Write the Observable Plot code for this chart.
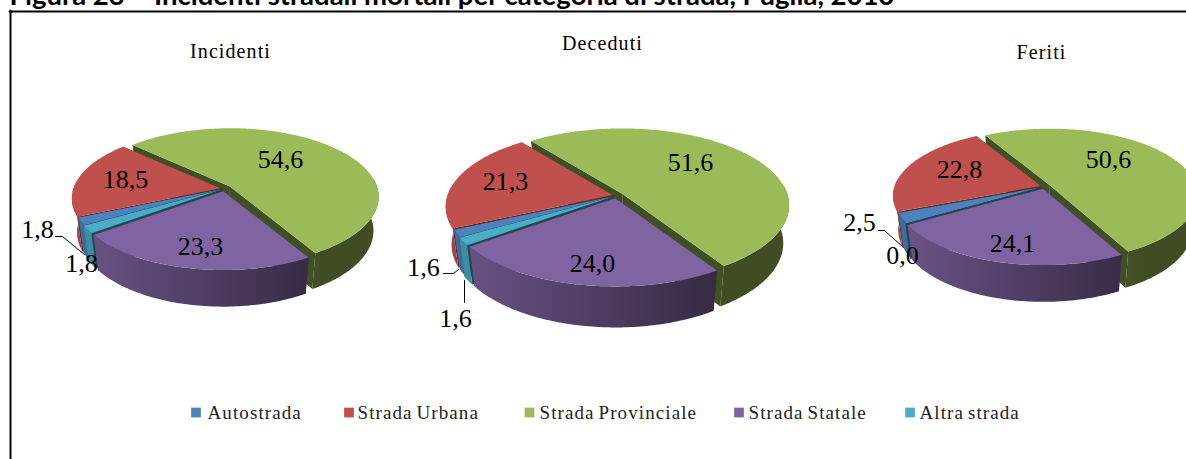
<!DOCTYPE html>
<html><head><meta charset="utf-8">
<script src="https://cdn.jsdelivr.net/npm/d3@7"></script>
<script src="https://cdn.jsdelivr.net/npm/@observablehq/plot@0.6"></script>
<style>html,body{margin:0;padding:0;background:#fff;overflow:hidden}svg{display:block}
.spaced text{letter-spacing:1.1px;word-spacing:-2px}</style>
</head><body><div id="chart"></div>
<script>
const figureTitle = "Figura 23 – Incidenti stradali mortali per categoria di strada, Puglia, 2010";
const categories = ["Autostrada", "Strada Urbana", "Strada Provinciale", "Strada Statale", "Altra strada"];
const palette = ["#4f81bd", "#c0504d", "#9bbb59", "#8064a2", "#4bacc6"];
const pieNames = ["Incidenti", "Deceduti", "Feriti"];
const incidenti = [1.8, 18.5, 54.6, 23.3, 1.8];
const deceduti = [1.6, 21.3, 51.6, 24.0, 1.6];
const feriti = [2.5, 22.8, 50.6, 24.1, 0.0];

// Layout only, separate from the values
const W = 1186, H = 459;
const pies = [
  {name: pieNames[0], values: incidenti, cx: 224, cy: 188, rx: 147, ry: 67, depth: 33.5, start: 240,
   explode: [3, 4, 7, 6, 4],
   title: [230, 51], labels: [[37, 229], [125, 179], [280, 159], [200, 246], [81, 263]],
   leaders: [[[55, 236], [62, 236], [84, 254]]]},
  {name: pieNames[1], values: deceduti, cx: 616, cy: 195, rx: 165, ry: 75, depth: 37.5, start: 239.5,
   explode: [3, 4, 7, 6, 4],
   title: [602, 43], labels: [[423, 267], [505, 181], [690, 162], [592, 263], [455, 318]],
   leaders: [[[443, 273], [453, 273], [458, 269]], [[464, 280], [464, 302]]]},
  {name: pieNames[2], values: feriti, cx: 1044, cy: 186, rx: 146, ry: 65, depth: 33.5, start: 239,
   explode: [3, 4, 6, 5, 4],
   title: [1041, 52], labels: [[859, 222], [959, 169], [1108, 159], [1012, 243], [902, 255]],
   leaders: [[[878, 230], [884, 230], [903, 247]]]}
];
const paintOrder = [2, 1, 0, 4, 3];
const legendSwatchX = [195.5, 348.5, 529, 738.5, 909.5];
const legendTextX = [207, 357, 539, 748, 919];
const legendY = 412;
const K = 0.15, SHRINK = 0.965;
const FRONT = [84, 276];

const rad = d => d * Math.PI / 180;
function shade(hex, f) {
  const c = d3.rgb(hex);
  return d3.rgb(c.r * f, c.g * f, c.b * f).formatHex();
}
const polys = [], textRows = [], leaderRows = [], gradients = [];
let id = 0;
function addPoly(points, color) {
  const z = id++;
  for (const [x, y] of points) polys.push({x, y, z, color});
}
function norm(t) { return ((t % 360) + 360) % 360; }
pies.forEach((p, pi) => {
  const total = d3.sum(p.values);
  let a = p.start;
  const slices = p.values.map((v, i) => {
    const a0 = a, a1 = a + v / total * 360;
    a = a1;
    return {i, v, a0, a1};
  });
  for (const k of paintOrder) {
    const {i, a0, a1} = slices[k];
    const mid = rad((a0 + a1) / 2);
    const ax = p.cx + p.explode[i] * Math.sin(mid);
    const ay = p.cy - p.explode[i] * Math.cos(mid) * p.ry / p.rx;
    const proj = t => {
      const u = Math.sin(rad(t)), v = -Math.cos(rad(t)), s = 1 / (1 - K * v);
      return {top: [ax + p.rx * u * s, ay + p.ry * v * s],
              bot: [ax + SHRINK * p.rx * u * s, ay + SHRINK * p.ry * v * s + p.depth * s]};
    };
    const apexBot = [ax, ay + p.depth];
    const base = palette[i];
    // cut walls
    for (const t of [a0, a1]) {
      const e = proj(t);
      addPoly([[ax, ay], e.top, e.bot, apexBot], shade(base, i === 1 ? 0.5 : 0.42));
    }
    // outer wall, only its front-facing part, with a left-to-right gradient
    const lo = norm(a0), span = a1 - a0;
    const from = lo + 0, to = lo + span;
    const ranges = [[from, to], [from - 360, to - 360], [from + 360, to + 360]]
      .map(([s, e]) => [Math.max(s, FRONT[0]), Math.min(e, FRONT[1])])
      .filter(([s, e]) => e > s);
    for (const [s, e] of ranges) {
      const n = Math.max(1, Math.ceil(e - s));
      const upper = [], lower = [];
      for (let j = 0; j <= n; j++) {
        const q = proj(s + (e - s) * j / n);
        upper.push(q.top);
        lower.push(q.bot);
      }
      const gid = `wall-${pi}-${i}`;
      gradients.push({gid, x1: p.cx - p.rx, x2: p.cx + p.rx, base});
      addPoly(upper.concat(lower.reverse()), `url(#${gid})`);
    }
    // top face
    const top = [[ax, ay]];
    const m = Math.max(1, Math.ceil(a1 - a0));
    for (let j = 0; j <= m; j++) top.push(proj(a0 + (a1 - a0) * j / m).top);
    addPoly(top, base);
  }
  p.values.forEach((v, i) => textRows.push({
    x: p.labels[i][0], y: p.labels[i][1], text: v.toFixed(1).replace(".", ",")
  }));
  p.leaders.forEach(l => { const z = id++; l.forEach(([x, y]) => leaderRows.push({x, y, z})); });
});

function gradientDefs() {
  const defs = d3.create("svg:defs");
  for (const g of gradients) {
    const lg = defs.append("linearGradient").attr("id", g.gid)
      .attr("gradientUnits", "userSpaceOnUse")
      .attr("x1", g.x1).attr("x2", g.x2).attr("y1", 0).attr("y2", 0);
    lg.append("stop").attr("offset", 0).attr("stop-color", shade(g.base, 0.84));
    lg.append("stop").attr("offset", 0.83).attr("stop-color", shade(g.base, 0.41));
    lg.append("stop").attr("offset", 1).attr("stop-color", shade(g.base, 0.41));
  }
  return defs.node();
}

const titleRows = pies.map(p => ({x: p.title[0], y: p.title[1], text: p.name}));
const legendRows = categories.map((c, i) => ({x: legendTextX[i], sx: legendSwatchX[i], y: legendY, c, color: palette[i]}));
const frameV = [{x: 10, y: 10}, {x: 10, y: H}];
const frameH = [{x: 9, y: 11}, {x: W, y: 11}];
const SERIF = "'Liberation Serif', serif";

const chart = Plot.plot({
  width: W, height: H, margin: 0,
  x: {domain: [0, W], range: [0, W], axis: null},
  y: {domain: [0, H], range: [0, H], axis: null},
  color: {type: "identity"},
  style: {background: "#fff"},
  marks: [
    gradientDefs,
    Plot.line(frameV, {x: "x", y: "y", stroke: "#000", strokeWidth: 2}),
    Plot.line(frameH, {x: "x", y: "y", stroke: "#000", strokeWidth: 2}),
    Plot.line(polys, {x: "x", y: "y", z: "z", fill: "color", stroke: "none"}),
    Plot.line(leaderRows, {x: "x", y: "y", z: "z", stroke: "#000", strokeWidth: 1}),
    Plot.text(textRows, {x: "x", y: "y", text: "text", fontFamily: SERIF, fontSize: 26, fill: "#000"}),
    Plot.text(titleRows, {x: "x", y: "y", text: "text", fontFamily: SERIF, fontSize: 20, fill: "#000", className: "spaced"}),
    Plot.dot(legendRows, {x: "sx", y: "y", symbol: "square", r: 5.5, fill: "color", stroke: null}),
    Plot.text(legendRows, {x: "x", y: "y", text: "c", textAnchor: "start", fontFamily: SERIF, fontSize: 19, fill: "#222", className: "spaced"}),
    Plot.text([figureTitle], {x: () => 9, y: () => -4, text: d => d, textAnchor: "start", fontFamily: "Lato, sans-serif", fontWeight: "bold", fontSize: 27.5, fill: "#000"})
  ]
});
document.getElementById("chart").append(chart);
</script></body></html>
